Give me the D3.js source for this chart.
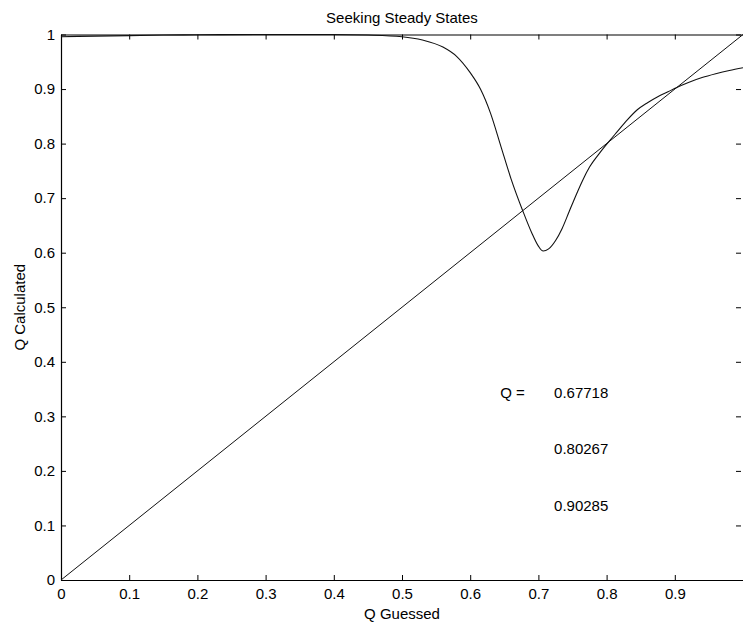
<!DOCTYPE html>
<html>
<head>
<meta charset="utf-8">
<script src="https://cdn.jsdelivr.net/npm/d3@7"></script>
<style>
  html, body { margin: 0; padding: 0; background: #fff; }
  svg { display: block; }
  text { font-family: "Liberation Sans", Arial, sans-serif; fill: #000; }
</style>
</head>
<body>
<svg id="chart" width="743" height="624"></svg>
<script>
// ---- data ----
const qGuessed = [0, 0.05, 0.1, 0.15, 0.2, 0.3, 0.4, 0.45, 0.5, 0.53, 0.56, 0.58, 0.6, 0.615, 0.63, 0.645, 0.66, 0.677, 0.69, 0.70, 0.707, 0.715, 0.725, 0.735, 0.745, 0.755, 0.765, 0.775, 0.79, 0.8027, 0.815, 0.83, 0.845, 0.86, 0.875, 0.89, 0.9029, 0.92, 0.94, 0.96, 0.98, 1.0];
const qCalculated = [0.996, 0.997, 0.998, 0.999, 0.9995, 1.0, 1.0, 0.999, 0.996, 0.99, 0.977, 0.96, 0.93, 0.9, 0.855, 0.795, 0.735, 0.677, 0.637, 0.612, 0.603, 0.607, 0.622, 0.645, 0.675, 0.705, 0.733, 0.757, 0.783, 0.8027, 0.821, 0.843, 0.862, 0.875, 0.886, 0.895, 0.9029, 0.912, 0.921, 0.928, 0.934, 0.939];
const diagonalX = [0, 1];
const diagonalY = [0, 1];
const xTickValues = [0, 0.1, 0.2, 0.3, 0.4, 0.5, 0.6, 0.7, 0.8, 0.9];
const yTickValues = [0, 0.1, 0.2, 0.3, 0.4, 0.5, 0.6, 0.7, 0.8, 0.9, 1];
const steadyStates = ["0.67718", "0.80267", "0.90285"];
const steadyLabelY = [0.344, 0.24, 0.137];
const titleText = "Seeking Steady States";
const xLabelText = "Q Guessed";
const yLabelText = "Q Calculated";

// ---- layout ----
const mLeft = 61, mRight = 743, mTop = 34.5, mBottom = 580;
const fontSize = 15;
const svg = d3.select("#chart");
const x = d3.scaleLinear().domain([0, 1]).range([mLeft, mRight]);
const y = d3.scaleLinear().domain([0, 1]).range([mBottom, mTop]);
const fmt = d => d === 0 ? "0" : (d === 1 ? "1" : d3.format(".1f")(d));

svg.append("defs").append("clipPath").attr("id", "clip")
  .append("rect").attr("x", mLeft).attr("y", mTop - 1).attr("width", mRight - mLeft).attr("height", mBottom - mTop + 2);

// axes
const gx = svg.append("g").attr("transform", `translate(0,${mBottom})`)
  .call(d3.axisBottom(x).tickValues(xTickValues).tickFormat(fmt).tickSizeInner(-5).tickSizeOuter(0).tickPadding(8));
const gxTop = svg.append("g").attr("transform", `translate(0,${mTop})`)
  .call(d3.axisTop(x).tickValues(xTickValues).tickFormat("").tickSizeInner(-5).tickSizeOuter(0));
const gy = svg.append("g").attr("transform", `translate(${mLeft},0)`)
  .call(d3.axisLeft(y).tickValues(yTickValues).tickFormat(fmt).tickSizeInner(-5).tickSizeOuter(0).tickPadding(6));
const gyRight = svg.append("g").attr("transform", `translate(${mRight - 2},0)`)
  .call(d3.axisRight(y).tickValues(yTickValues).tickFormat("").tickSizeInner(-5).tickSizeOuter(0));
gyRight.select(".domain").remove();
[gx, gxTop, gy, gyRight].forEach(g => {
  g.selectAll("path.domain").attr("stroke", "#000").attr("stroke-width", 1.2);
  g.selectAll(".tick line").attr("stroke", "#000").attr("stroke-width", 1);
  g.selectAll(".tick text").attr("font-size", fontSize).attr("font-family", "Liberation Sans, Arial, sans-serif").attr("fill", "#000");
});

// lines
const plot = svg.append("g").attr("clip-path", "url(#clip)");
const diag = diagonalX.map((d, i) => [d, diagonalY[i]]);
plot.append("path").datum(diag)
  .attr("fill", "none").attr("stroke", "#111").attr("stroke-width", 1)
  .attr("d", d3.line().x(d => x(d[0])).y(d => y(d[1])));
const curvePts = qGuessed.map((d, i) => [d, qCalculated[i]]);
plot.append("path").datum(curvePts)
  .attr("fill", "none").attr("stroke", "#111").attr("stroke-width", 1.1)
  .attr("d", d3.line().curve(d3.curveMonotoneX).x(d => x(d[0])).y(d => y(d[1])));

// annotations
svg.append("text").attr("x", x(0.644)).attr("y", y(steadyLabelY[0])).attr("dy", "0.35em")
  .attr("font-size", fontSize).text("Q =");
steadyStates.forEach((s, i) => {
  svg.append("text").attr("x", x(0.723)).attr("y", y(steadyLabelY[i])).attr("dy", "0.35em")
    .attr("font-size", fontSize).text(s);
});

// titles
svg.append("text").attr("x", (mLeft + mRight) / 2).attr("y", 23).attr("text-anchor", "middle")
  .attr("font-size", fontSize).text(titleText);
svg.append("text").attr("x", (mLeft + mRight) / 2).attr("y", 619).attr("text-anchor", "middle")
  .attr("font-size", fontSize).text(xLabelText);
svg.append("text").attr("transform", `translate(25,${(mTop + mBottom) / 2}) rotate(-90)`)
  .attr("text-anchor", "middle").attr("font-size", fontSize).text(yLabelText);
</script>
</body>
</html>
